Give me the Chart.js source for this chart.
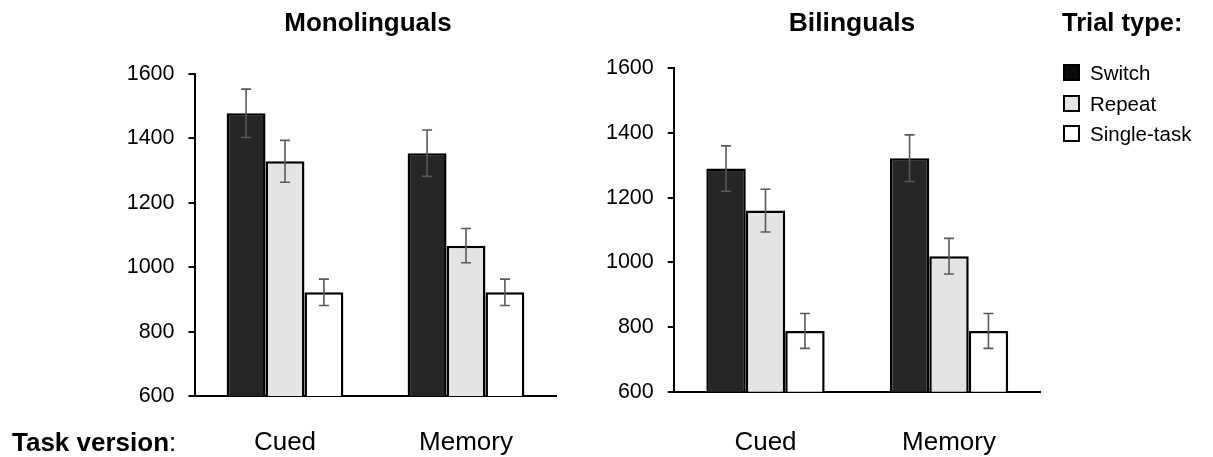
<!DOCTYPE html>
<html>
<head>
<meta charset="utf-8">
<script src="https://cdn.jsdelivr.net/npm/chart.js@4.4.1/dist/chart.umd.min.js"></script>
<style>
html,body{margin:0;padding:0;background:#fff;}
#root{position:relative;width:1213px;height:457px;overflow:hidden;font-family:'Liberation Sans',Arial,Helvetica,sans-serif;color:#000;}
.wrap{position:absolute;top:0;}
.t{position:absolute;white-space:nowrap;line-height:26px;}
.b{font-weight:bold;}
.leg{position:absolute;left:1063px;white-space:nowrap;font-size:20.5px;line-height:22px;}
.sw{display:inline-block;width:13px;height:13px;border:2px solid #000;box-sizing:content-box;vertical-align:-1px;margin-right:10px;}
</style>
</head>
<body>
<div id="root">
  <div class="wrap" style="left:0;width:600px;height:457px"><canvas id="cl" width="600" height="457"></canvas></div>
  <div class="wrap" style="left:600px;width:613px;height:457px"><canvas id="cr" width="613" height="457"></canvas></div>
  <div class="t b" style="left:268px;width:200px;top:9px;text-align:center;font-size:26px">Monolinguals</div>
  <div class="t b" style="left:752px;width:200px;top:9px;text-align:center;font-size:26.5px">Bilinguals</div>
  <div class="t b" style="left:1062px;top:9px;font-size:25.5px">Trial type:</div>
  <div class="t" style="left:12px;top:429px;font-size:26px"><span class="b">Task version</span>:</div>
  <div id="legend"></div>
</div>
<script>
// ---- data ----
const categories = ['Cued', 'Memory'];
const seriesNames = ['Switch', 'Repeat', 'Single-task'];
const seriesColors = ['#262626', '#e4e4e4', '#ffffff'];
const legendColors = ['#0a0a0a', '#e4e4e4', '#ffffff'];

const monoSwitch = [1478, 1354];
const monoSwitchErr = [75, 72];
const monoRepeat = [1329, 1067];
const monoRepeatErr = [65, 53];
const monoSingle = [922, 922];
const monoSingleErr = [41, 41];

const biSwitch = [1290, 1322];
const biSwitchErr = [70, 72];
const biRepeat = [1160, 1019];
const biRepeatErr = [66, 55];
const biSingle = [788, 788];
const biSingleErr = [54, 54];

const yTicks = [600, 800, 1000, 1200, 1400, 1600];

// ---- legend (HTML) ----
const legendTops = [62, 93, 123];
const legendEl = document.getElementById('legend');
seriesNames.forEach((n, i) => {
  const d = document.createElement('div');
  d.className = 'leg';
  d.style.top = legendTops[i] + 'px';
  d.innerHTML = '<span class="sw" style="background:' + legendColors[i] + '"></span>' + n;
  legendEl.appendChild(d);
});

// ---- error bar plugin ----
const errorBars = {
  id: 'errorBars',
  afterDatasetsDraw(chart) {
    const ctx = chart.ctx;
    const ys = chart.scales.y;
    chart.data.datasets.forEach((ds, di) => {
      const meta = chart.getDatasetMeta(di);
      meta.data.forEach((bar, i) => {
        const v = ds.data[i], e = ds.errors[i];
        const yTop = ys.getPixelForValue(v + e);
        const yBot = ys.getPixelForValue(v - e);
        const x = bar.x;
        ctx.save();
        ctx.strokeStyle = '#5a5a5a';
        ctx.lineWidth = 1.6;
        ctx.beginPath();
        ctx.moveTo(x, yTop); ctx.lineTo(x, yBot);
        ctx.moveTo(x - 5, yTop); ctx.lineTo(x + 5, yTop);
        ctx.moveTo(x - 5, yBot); ctx.lineTo(x + 5, yBot);
        ctx.stroke();
        ctx.restore();
      });
    });
  }
};

function makeDatasets(vals, errs) {
  return seriesNames.map((n, i) => ({
    label: n,
    data: vals[i],
    errors: errs[i],
    backgroundColor: seriesColors[i],
    borderColor: '#000',
    borderWidth: 2.5,
    borderSkipped: 'bottom',
    categoryPercentage: 0.645,
    barPercentage: 1.0
  }));
}

function makeChart(id, vals, errs, geo) {
  return new Chart(document.getElementById(id), {
    type: 'bar',
    data: { labels: categories, datasets: makeDatasets(vals, errs) },
    plugins: [errorBars],
    options: {
      responsive: false,
      animation: false,
      devicePixelRatio: 1,
      layout: { padding: { left: 0, right: geo.right, top: geo.top, bottom: 0 } },
      plugins: { legend: { display: false }, tooltip: { enabled: false }, title: { display: false } },
      scales: {
        x: {
          grid: { display: false, drawTicks: false },
          border: { display: true, color: '#000', width: 2 },
          ticks: { color: '#000', padding: geo.xpad, font: { family: "'Liberation Sans', Arial, sans-serif", size: 26 } },
          afterFit(s) { s.height = geo.xh; }
        },
        y: {
          min: yTicks[0],
          max: yTicks[yTicks.length - 1],
          afterBuildTicks(s) { s.ticks = yTicks.map(v => ({ value: v })); },
          grid: { drawOnChartArea: false, drawTicks: true, tickLength: 6, color: '#000', lineWidth: 2 },
          border: { display: true, color: '#000', width: 2 },
          ticks: {
            color: '#000', padding: 14,
            font: { family: "'Liberation Sans', Arial, sans-serif", size: 21.5 },
            callback: v => String(v)
          },
          afterFit(s) { s.width = geo.yw; }
        }
      }
    }
  });
}

makeChart('cl',
  [monoSwitch, monoRepeat, monoSingle],
  [monoSwitchErr, monoRepeatErr, monoSingleErr],
  { right: 43.5, top: 74, yw: 194.5, xh: 61, xpad: 31 });

makeChart('cr',
  [biSwitch, biRepeat, biSingle],
  [biSwitchErr, biRepeatErr, biSingleErr],
  { right: 172.25, top: 68.3, yw: 73.75, xh: 65.3, xpad: 35.5 });
</script>
</body>
</html>
